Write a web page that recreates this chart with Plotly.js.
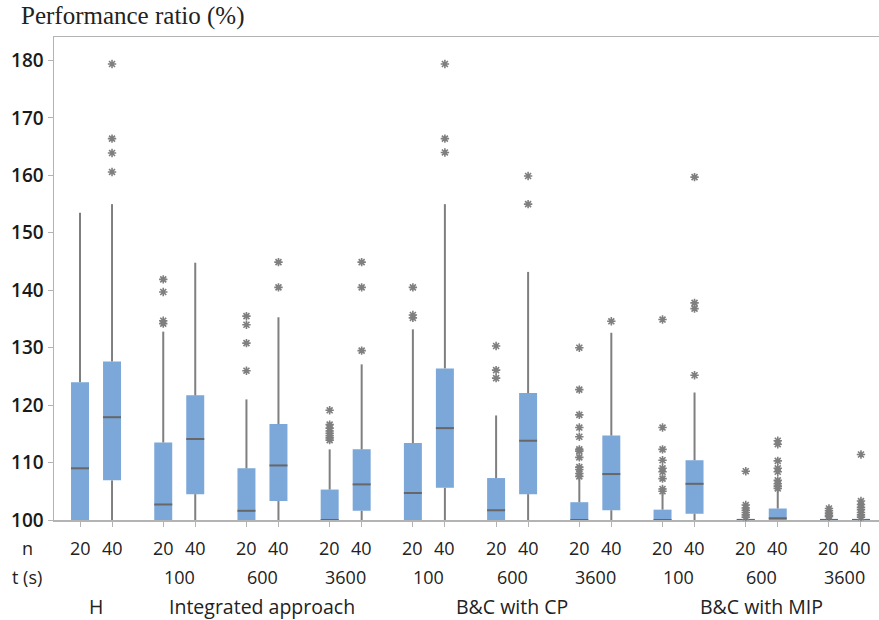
<!DOCTYPE html>
<html>
<head>
<meta charset="utf-8">
<script src="https://cdn.plot.ly/plotly-3.0.1.min.js"></script>
<style>html,body{margin:0;padding:0;background:#fff;}#chart{width:879px;height:620px;}</style>
</head>
<body>
<div id="chart"></div>
<script>
// ---- data ----
const methods = ['H', 'Integrated approach', 'B&C with CP', 'B&C with MIP'];
const methodPairs = [[0], [1, 2, 3], [4, 5, 6], [7, 8, 9]];
const timeLabels = ['', '100', '600', '3600', '100', '600', '3600', '100', '600', '3600'];
const nLabels = ['20', '40'];

const q1 = [100, 106.9, 100, 104.5, 100, 103.3, 100, 101.6, 100, 105.6, 100, 104.5, 100, 101.7, 100, 101.1, 100, 100, 100, 100];
const median = [109.0, 117.9, 102.7, 114.1, 101.6, 109.5, 100, 106.2, 104.7, 116.0, 101.7, 113.8, 100, 108.0, 100, 106.3, 100, 100.3, 100, 100];
const q3 = [124.0, 127.6, 113.5, 121.7, 109.0, 116.7, 105.3, 112.3, 113.4, 126.4, 107.3, 122.1, 103.1, 114.7, 101.8, 110.4, 100.2, 102.0, 100.2, 100.2];
const lowerWhisker = [100, 100, 100, 100, 100, 100, 100, 100, 100, 100, 100, 100, 100, 100, 100, 100, 100, 100, 100, 100];
const upperWhisker = [153.5, 155.0, 132.8, 144.8, 121.0, 135.3, 112.3, 127.1, 133.2, 155.0, 118.2, 143.2, 107.3, 132.6, 104.8, 122.2, 100.2, 105.2, 100.2, 100.2];
const outliers = [
  [],
  [160.6, 163.9, 166.4, 179.4],
  [134.2, 134.7, 139.7, 141.9],
  [],
  [126.0, 130.8, 134.0, 135.5],
  [140.5, 144.9],
  [113.9, 114.3, 114.7, 115.1, 115.5, 116.0, 116.6, 119.1],
  [129.5, 140.5, 144.9],
  [135.2, 135.7, 140.5],
  [164.0, 166.4, 179.4],
  [124.7, 126.1, 130.3],
  [155.0, 159.9],
  [107.6, 108.1, 108.8, 109.2, 110.9, 112.0, 112.3, 114.5, 116.1, 118.3, 122.7, 130.0],
  [134.6],
  [105.0, 105.4, 107.2, 108.4, 109.0, 110.4, 112.3, 116.1, 134.9],
  [125.2, 136.8, 137.8, 159.7],
  [100.5, 100.9, 101.3, 101.7, 102.1, 102.6, 108.5],
  [105.5, 105.9, 106.3, 106.9, 108.4, 109.0, 110.3, 113.2, 113.8],
  [100.6, 100.8, 101.2, 101.6, 102.0],
  [100.5, 100.9, 101.3, 101.8, 102.2, 102.7, 103.3, 111.4]
];

// ---- layout helpers ----
const pairOffset = 0.1923;
const boxW = 0.216;
const pos = [];
for (let k = 0; k < 10; k++) { pos.push(k - pairOffset); pos.push(k + pairOffset); }

const blue = '#7ba7d9';
const grey = '#7f7f7f';

const barTrace = {
  type: 'bar', x: pos, base: q1, y: q3.map((v, i) => v - q1[i]), width: boxW,
  marker: {color: blue, line: {width: 0}}, hoverinfo: 'skip', showlegend: false
};

const wx = [], wy = [];
pos.forEach((p, i) => {
  if (q1[i] > lowerWhisker[i]) { wx.push(p, p, null); wy.push(lowerWhisker[i], q1[i], null); }
  if (upperWhisker[i] > q3[i]) { wx.push(p, p, null); wy.push(q3[i], upperWhisker[i], null); }
});
const whiskerTrace = {type: 'scatter', mode: 'lines', x: wx, y: wy, line: {color: grey, width: 2}, hoverinfo: 'skip', showlegend: false, cliponaxis: false};

const mx = [], my = [];
pos.forEach((p, i) => { mx.push(p - boxW / 2, p + boxW / 2, null); my.push(median[i], median[i], null); });
const medianTrace = {type: 'scatter', mode: 'lines', x: mx, y: my, line: {color: '#676767', width: 2}, hoverinfo: 'skip', showlegend: false, cliponaxis: false};

const ox = [], oy = [];
pos.forEach((p, i) => outliers[i].forEach(v => { ox.push(p); oy.push(v); }));
const outlierTrace = {type: 'scatter', mode: 'markers', x: ox, y: oy,
  marker: {symbol: 'asterisk-open', size: 7, color: grey, line: {color: grey, width: 1.6}},
  hoverinfo: 'skip', showlegend: false, cliponaxis: false};

const numFont = {family: 'Open Sans, Noto Sans, sans-serif', size: 18, color: '#222'};
const txtFont = {family: 'Open Sans, Noto Sans, sans-serif', size: 19.5, color: '#222'};
const annotations = [];
// n row
annotations.push({xref: 'paper', x: 0, xshift: -27, yref: 'paper', y: 0, yshift: -28, xanchor: 'center', yanchor: 'middle', text: 'n', showarrow: false, font: numFont});
pos.forEach((p, i) => annotations.push({xref: 'x', x: p, yref: 'paper', y: 0, yshift: -28, xanchor: 'center', yanchor: 'middle', text: nLabels[i % 2], showarrow: false, font: numFont}));
// t row
annotations.push({xref: 'paper', x: 0, xshift: -27, yref: 'paper', y: 0, yshift: -57, xanchor: 'center', yanchor: 'middle', text: 't (s)', showarrow: false, font: numFont});
timeLabels.forEach((t, k) => { if (t) annotations.push({xref: 'x', x: k, yref: 'paper', y: 0, yshift: -57, xanchor: 'center', yanchor: 'middle', text: t, showarrow: false, font: numFont}); });
// method row
methods.forEach((m, j) => {
  const ps = methodPairs[j];
  const c = (ps[0] + ps[ps.length - 1]) / 2;
  annotations.push({xref: 'x', x: c, yref: 'paper', y: 0, yshift: -86, xanchor: 'center', yanchor: 'middle', text: m, showarrow: false, font: txtFont});
});
// y title
annotations.push({xref: 'paper', x: 0, xshift: -35, yref: 'paper', y: 1, yshift: 21, xanchor: 'left', yanchor: 'middle', text: 'Performance ratio (%)', showarrow: false, font: {family: 'Liberation Serif, Times New Roman, serif', size: 25, color: '#222'}});

const layout = {
  width: 879, height: 620,
  margin: {l: 54, r: 0, t: 37, b: 100},
  paper_bgcolor: '#fff', plot_bgcolor: '#fff',
  barmode: 'overlay', showlegend: false,
  xaxis: {range: [-0.505, 9.409], showgrid: false, zeroline: false, showline: true, linecolor: '#b3b3b3', linewidth: 1.5,
    mirror: true, ticks: 'outside', ticklen: 5, tickcolor: '#b3b3b3', tickwidth: 1, tickvals: pos, showticklabels: false, layer: 'below traces', fixedrange: true},
  yaxis: {range: [100, 184.1], showgrid: false, zeroline: false, showline: true, linecolor: '#b3b3b3', linewidth: 1.5,
    mirror: false, ticks: 'outside', ticklen: 5, tickcolor: '#b3b3b3', tickvals: [100, 110, 120, 130, 140, 150, 160, 170, 180],
    tickfont: {family: 'Open Sans, Noto Sans, sans-serif', size: 19, color: '#1a1a1a', weight: 600}, layer: 'below traces', fixedrange: true},
  annotations: annotations
};

Plotly.newPlot('chart', [barTrace, whiskerTrace, medianTrace, outlierTrace], layout, {displayModeBar: false, staticPlot: true});
</script>
</body>
</html>
